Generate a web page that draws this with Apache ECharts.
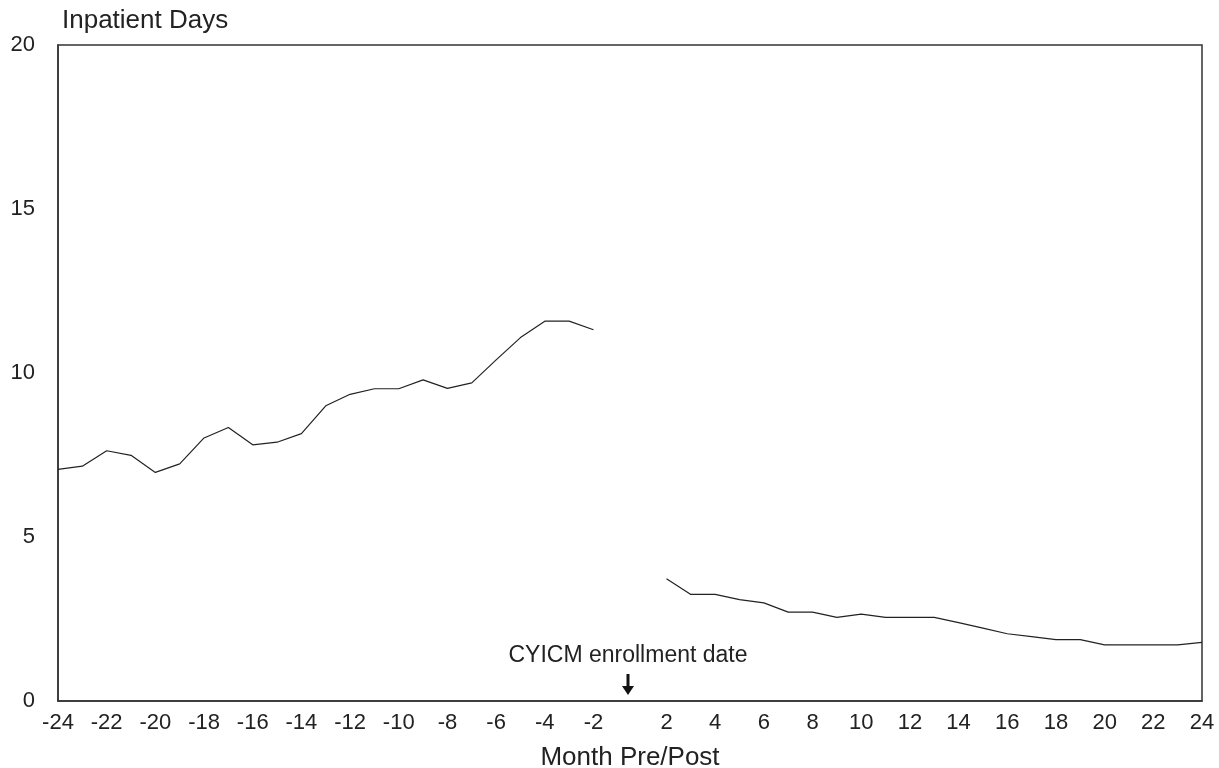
<!DOCTYPE html>
<html>
<head>
<meta charset="utf-8">
<title>Inpatient Days</title>
<script src="https://cdn.jsdelivr.net/npm/echarts@6/dist/echarts.min.js"></script>
<style>
  html, body { margin: 0; padding: 0; background: #fff; }
  #chart { width: 1219px; height: 768px; }
</style>
</head>
<body>
<div id="chart"></div>
<script>
// months pre/post enrollment (no month 0)
const months = [];
for (let m = -24; m <= 24; m++) if (m !== 0) months.push(String(m));

// months -24 .. -2
const preDays = [7.06, 7.16, 7.63, 7.49, 6.97, 7.23, 8.02, 8.34, 7.81, 7.89, 8.15, 9.0,
  9.35, 9.52, 9.52, 9.79, 9.53, 9.7, 10.4, 11.08, 11.58, 11.58, 11.32];
// months 2 .. 24
const postDays = [3.73, 3.25, 3.25, 3.09, 2.99, 2.71, 2.71, 2.55, 2.65, 2.55, 2.55, 2.55,
  2.39, 2.22, 2.05, 1.96, 1.87, 1.87, 1.71, 1.71, 1.71, 1.71, 1.79];

const yTicks = [0, 5, 10, 15, 20];

const preData = months.map(m => {
  const i = Number(m) + 24;
  return Number(m) <= -2 ? preDays[i] : null;
});
const postData = months.map(m => {
  const i = Number(m) - 2;
  return Number(m) >= 2 ? postDays[i] : null;
});

const textColor = '#222';
const fontFamily = 'Liberation Sans, Arial, sans-serif';
const chart = echarts.init(document.getElementById('chart'));

chart.setOption({
  backgroundColor: '#fff',
  animation: false,
  textStyle: { fontFamily: fontFamily },
  grid: {
    left: 58, right: 17, top: 45, bottom: 67,
    containLabel: false,
    outerBoundsMode: 'none',
    show: true,
    borderColor: '#333',
    borderWidth: 1.5
  },
  xAxis: {
    type: 'category',
    data: months,
    boundaryGap: false,
    name: 'Month Pre/Post',
    nameLocation: 'middle',
    nameGap: 44,
    nameTextStyle: { fontSize: 26, color: textColor },
    axisLine: { lineStyle: { color: '#333', width: 1.5 } },
    axisTick: { show: false },
    axisLabel: {
      interval: (idx, val) => Number(val) % 2 === 0,
      fontSize: 22,
      color: textColor,
      margin: 11
    },
    splitLine: { show: false }
  },
  yAxis: {
    type: 'value',
    min: yTicks[0],
    max: yTicks[yTicks.length - 1],
    interval: 5,
    name: 'Inpatient Days',
    nameLocation: 'end',
    nameGap: 11,
    nameTextStyle: { fontSize: 26, color: textColor, align: 'left', padding: [0, 0, 0, 4] },
    axisLine: { show: true, lineStyle: { color: '#333', width: 1.5 } },
    axisTick: { show: false },
    axisLabel: { fontSize: 22, color: textColor, margin: 23, padding: [4, 0, 0, 0] },
    splitLine: { show: false }
  },
  series: [
    {
      name: 'Pre',
      type: 'line',
      data: preData,
      symbol: 'none',
      connectNulls: false,
      lineStyle: { color: '#222', width: 1.2 }
    },
    {
      name: 'Post',
      type: 'line',
      data: postData,
      symbol: 'none',
      connectNulls: false,
      lineStyle: { color: '#222', width: 1.2 }
    }
  ]
});

// enrollment marker between month -1 and month 1
const pA = chart.convertToPixel({ gridIndex: 0 }, ['-1', 0]);
const pB = chart.convertToPixel({ gridIndex: 0 }, ['1', 0]);
const mx = (pA[0] + pB[0]) / 2 - 2;
const baseY = pA[1];

chart.setOption({
  graphic: [
    {
      type: 'text',
      x: mx,
      y: baseY - 45,
      style: {
        text: 'CYICM enrollment date',
        fontSize: 23,
        fill: textColor,
        fontFamily: fontFamily,
        align: 'center',
        verticalAlign: 'middle'
      }
    },
    {
      type: 'line',
      shape: { x1: mx, y1: baseY - 27, x2: mx, y2: baseY - 14 },
      style: { stroke: '#111', lineWidth: 3 }
    },
    {
      type: 'polygon',
      shape: { points: [[mx - 6, baseY - 15], [mx + 6, baseY - 15], [mx, baseY - 6]] },
      style: { fill: '#111' }
    }
  ]
});
</script>
</body>
</html>
